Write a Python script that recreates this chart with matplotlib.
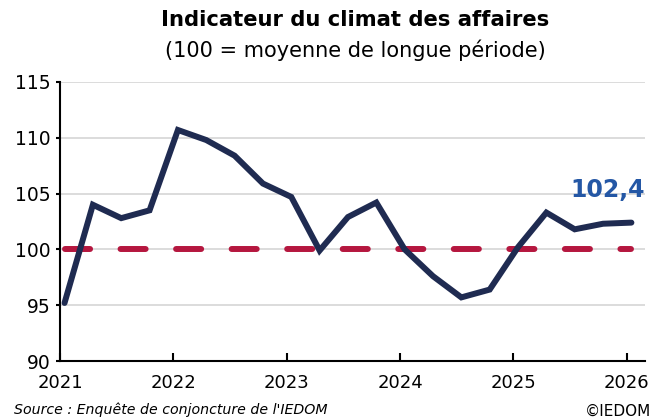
import matplotlib
matplotlib.use("Agg")
import matplotlib.pyplot as plt
import numpy as np

# Data
quarters = ["2021T1", "2021T2", "2021T3", "2021T4",
            "2022T1", "2022T2", "2022T3", "2022T4",
            "2023T1", "2023T2", "2023T3", "2023T4",
            "2024T1", "2024T2", "2024T3", "2024T4",
            "2025T1", "2025T2", "2025T3", "2025T4",
            "2026T1"]
values = [95.2, 104.0, 102.8, 103.5,
          110.7, 109.8, 108.4, 105.9,
          104.7, 99.9, 102.9, 104.2,
          100.0, 97.6, 95.7, 96.4,
          100.2, 103.3, 101.8, 102.3,
          102.4]
reference = [100.0] * len(values)
year_ticks = [2021, 2022, 2023, 2024, 2025, 2026]
y_ticks = [90, 95, 100, 105, 110, 115]
last_label = "102,4"

# positions: quarter -> decimal year
xpos = np.array([int(q[:4]) + (int(q[5]) - 1) * 0.25 + 0.04 for q in quarters])

fig = plt.figure(figsize=(6.53, 4.19), dpi=100)
ax = fig.add_axes([60 / 653, 1 - 361 / 419, 585 / 653, 279 / 419])

navy = "#1F2B51"
crimson = "#B5173F"
label_blue = "#2457A5"

for yv in [95, 100, 105, 110, 115]:
    ax.axhline(yv, color="#D9D9D9", lw=1.3, zorder=1)

ax.plot(xpos, reference, color=crimson, lw=4.3, linestyle=(0, (4.2, 5.1)),
        dash_capstyle="round", zorder=2)
ax.plot(xpos, values, color=navy, lw=4.3, solid_capstyle="round",
        solid_joinstyle="miter", zorder=3)

ax.annotate(last_label, xy=(xpos[-1], values[-1]), xytext=(10, 15),
            textcoords="offset points", ha="right", va="bottom",
            fontsize=17, fontweight="bold", color=label_blue)

ax.set_xlim(2021, 2026.16)
ax.set_ylim(90, 115)
ax.set_xticks(year_ticks)
ax.set_xticklabels([str(y) for y in year_ticks])
ax.set_yticks(y_ticks)

for s in ["top", "right"]:
    ax.spines[s].set_visible(False)
for s in ["left", "bottom"]:
    ax.spines[s].set_linewidth(1.5)
    ax.spines[s].set_color("black")

ax.tick_params(axis="x", direction="in", length=6, width=1.5, labelsize=13, pad=9)
ax.tick_params(axis="y", direction="out", length=3, width=1.5, labelsize=13.5, pad=4)

fig.text(355 / 653, 1 - 20 / 419, "Indicateur du climat des affaires",
         ha="center", va="center", fontsize=15.2, fontweight="bold")
fig.text(355 / 653, 1 - 50 / 419, "(100 = moyenne de longue période)",
         ha="center", va="center", fontsize=15)
fig.text(14 / 653, 1 - 410 / 419, "Source : Enquête de conjoncture de l'IEDOM",
         ha="left", va="center", fontsize=10.2, style="italic")
fig.text(651 / 653, 1 - 411 / 419, "©IEDOM",
         ha="right", va="center", fontsize=11)

fig.savefig("out.png", dpi=100)
